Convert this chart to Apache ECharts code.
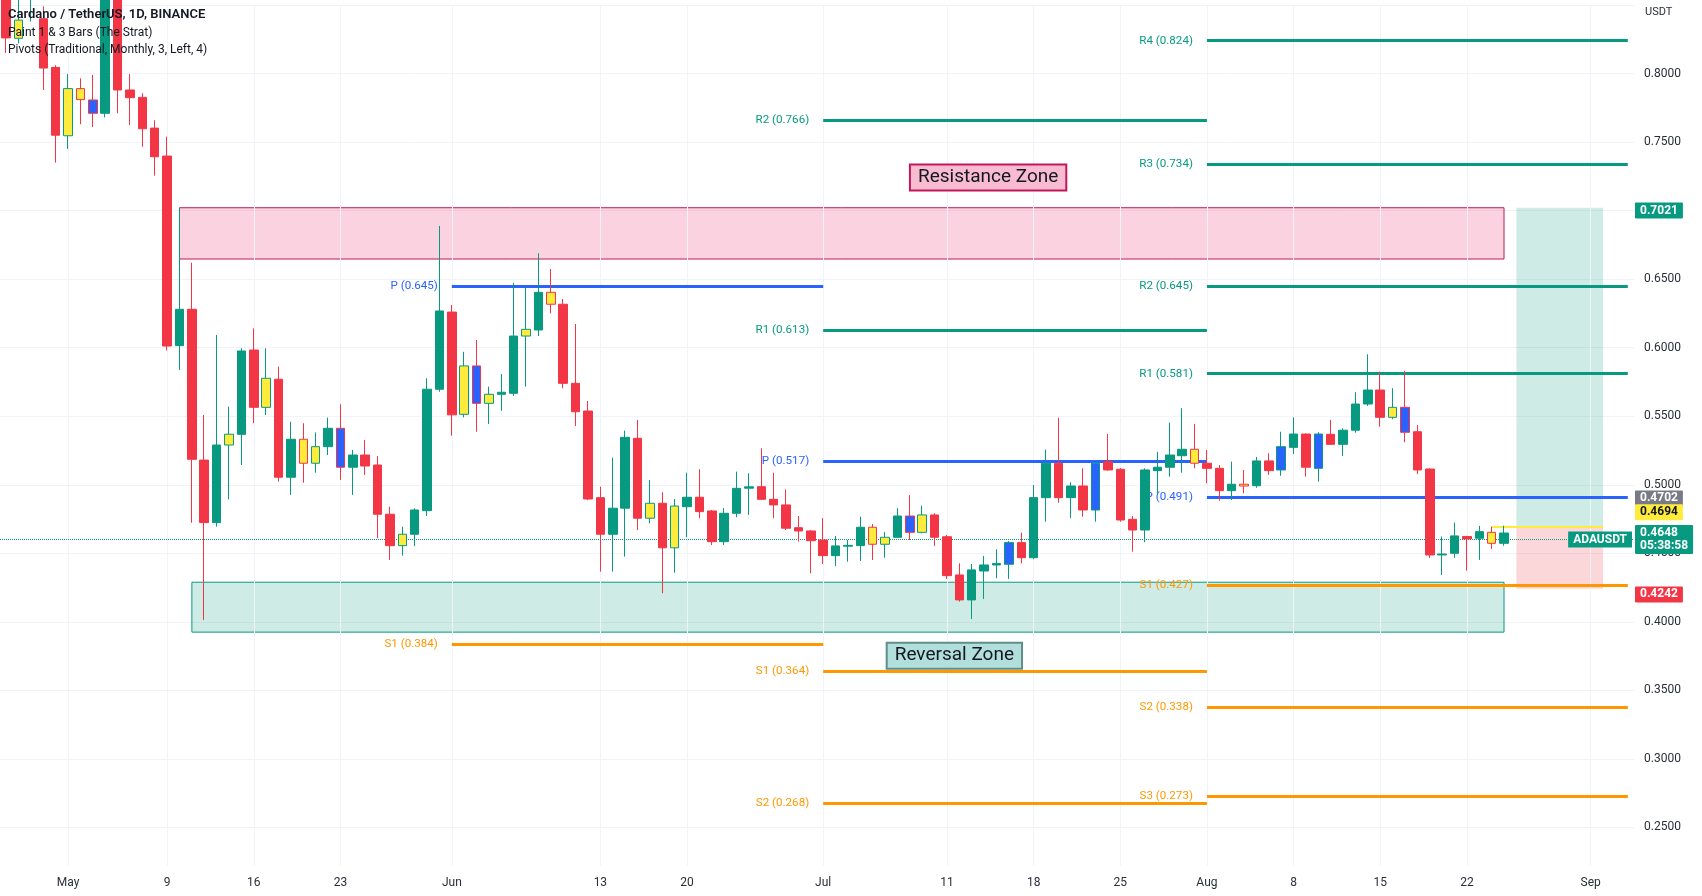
<!DOCTYPE html>
<html>
<head>
<meta charset="utf-8">
<script src="https://cdn.jsdelivr.net/npm/echarts@6/dist/echarts.min.js"></script>
<style>html,body{margin:0;padding:0;background:#fff;}#c{width:1702px;height:896px;}</style>
</head>
<body>
<div id="c"></div>
<script>
// ---------------- DATA ----------------
const startDate = '2022-04-26';
const dayCount = 132; // Apr 26 .. Sep 4 (category slots)

// daily candles, Apr 26 .. Aug 25 2022
const opens = [
0.885,0.8257,0.855,0.840,0.8045,
0.7546,0.789,0.7807,0.771,0.865,0.788,0.7826,0.7602,0.7398,0.6015,
0.628,0.518,0.4724,0.529,0.5368,0.5983,0.5565,0.577,0.5055,0.5332,
0.5157,0.5278,0.5412,0.5128,0.5217,0.5144,0.4785,0.4556,0.4639,0.4811,0.5697,
0.626,0.5514,0.5867,0.5594,0.566,0.5667,0.6085,0.6129,0.6404,0.6317,
0.574,0.5538,0.4906,0.4639,0.4829,0.5339,0.4756,0.4865,0.454,0.484,
0.4909,0.4809,0.4585,0.4792,0.4975,0.4986,0.4894,0.4853,0.4687,0.4663,
0.4597,0.4483,0.4552,0.4556,0.469,0.4566,0.4617,0.4772,0.4653,0.478,
0.4621,0.4342,0.416,0.4371,0.4415,0.442,0.4578,0.4468,0.4906,0.5157,
0.4906,0.4991,0.4816,0.5169,0.5113,0.4748,0.467,0.5103,0.5128,0.5212,0.5259,
0.5157,0.512,0.4957,0.5004,0.4993,0.5174,0.5108,0.5273,0.537,0.512,
0.5368,0.5295,0.5398,0.5589,0.5691,0.5492,0.5565,0.5387,0.5115,0.4488,
0.45,0.4622,0.461,0.4653,0.4573
];
const highs = [
0.895,0.86,0.89,0.849,0.806,
0.7996,0.7965,0.799,0.89,0.875,0.7996,0.7856,0.766,0.754,0.7021,
0.662,0.5509,0.6093,0.557,0.5996,0.6141,0.5996,0.5862,0.546,0.5449,
0.5382,0.549,0.5587,0.5254,0.5327,0.521,0.484,0.4694,0.4828,0.5777,0.6888,
0.6312,0.597,0.6056,0.5716,0.5808,0.6474,0.6445,0.6689,0.6574,0.6355,
0.6173,0.5611,0.4986,0.5198,0.5395,0.5473,0.5035,0.4945,0.4896,0.5088,
0.5113,0.4816,0.483,0.5096,0.5084,0.5266,0.5088,0.4967,0.4772,0.467,
0.4756,0.4627,0.4597,0.4767,0.4714,0.4654,0.4829,0.4925,0.4848,0.4792,
0.4634,0.4427,0.4422,0.4481,0.4529,0.459,0.4651,0.4999,0.5257,0.5489,
0.5018,0.512,0.516,0.537,0.5122,0.4772,0.512,0.5241,0.5453,0.5558,0.5443,
0.5254,0.5144,0.5169,0.5108,0.5203,0.523,0.5387,0.5492,0.5375,0.5383,
0.5473,0.5412,0.5675,0.5952,0.5825,0.5704,0.5832,0.5436,0.512,0.4622,
0.4724,0.4628,0.47,0.4694,0.4702
];
const lows = [
0.815,0.822,0.838,0.788,0.735,
0.745,0.763,0.761,0.768,0.771,0.7624,0.7466,0.7255,0.598,0.5837,
0.4723,0.4014,0.4694,0.4894,0.5144,0.5449,0.5509,0.5023,0.4926,0.5015,
0.5088,0.5217,0.5035,0.4926,0.5072,0.461,0.4452,0.4483,0.4553,0.4772,0.5679,
0.5358,0.5492,0.5387,0.5443,0.554,0.5648,0.5716,0.6085,0.6251,0.5704,
0.5429,0.4889,0.4366,0.4366,0.4476,0.467,0.4719,0.4209,0.4359,0.4617,
0.4756,0.4561,0.4561,0.4763,0.478,0.4889,0.4756,0.467,0.4585,0.4354,
0.4422,0.4408,0.4439,0.4444,0.4451,0.4468,0.4614,0.4597,0.4646,0.4554,
0.4313,0.4147,0.4021,0.4167,0.4318,0.4313,0.4427,0.4457,0.4731,0.4869,
0.4756,0.4767,0.4731,0.5103,0.4731,0.4512,0.4581,0.4926,0.5059,0.5088,0.512,
0.5011,0.4884,0.4889,0.4938,0.4978,0.5072,0.5066,0.5225,0.5059,0.5023,
0.529,0.521,0.538,0.5575,0.5424,0.5478,0.531,0.5079,0.4465,0.4342,
0.4468,0.4374,0.4452,0.4532,0.4555
];
const closes = [
0.826,0.839,0.875,0.804,0.755,
0.789,0.781,0.771,0.865,0.788,0.7824,0.7597,0.7393,0.6012,0.628,
0.5186,0.4724,0.529,0.5369,0.5976,0.5565,0.5777,0.5055,0.5332,0.5157,
0.5278,0.5412,0.5128,0.5217,0.5137,0.4785,0.4556,0.4639,0.4816,0.5697,0.6268,
0.551,0.5867,0.5594,0.566,0.5675,0.6085,0.6134,0.6404,0.6317,0.574,
0.5533,0.4896,0.4639,0.4829,0.5346,0.4756,0.4865,0.454,0.4845,0.4909,
0.4804,0.4585,0.4792,0.4974,0.4985,0.4894,0.4853,0.4683,0.4663,0.4592,
0.4483,0.4554,0.4558,0.469,0.4566,0.4617,0.4772,0.4653,0.478,0.4617,
0.4337,0.416,0.4379,0.4415,0.4425,0.4578,0.4468,0.4906,0.5157,0.4906,
0.4991,0.4816,0.5157,0.5108,0.4743,0.467,0.5108,0.5128,0.5217,0.5259,0.5157,
0.512,0.4957,0.5004,0.4991,0.5174,0.5103,0.5278,0.537,0.5128,0.537,
0.5295,0.5398,0.5589,0.5691,0.5492,0.5565,0.5383,0.5108,0.4488,0.4495,
0.4627,0.4605,0.4658,0.4573,0.4648
];
// Strat bar type: n = normal, i = inside bar (1, yellow), o = outside bar (3, blue)
const barKinds = ('ninnn' + 'iionnnnnnn' + 'nnninninni' + 'inonnnninnn' +
  'nioinninin' + 'nnnnnninin' + 'nnnnnnnnnn' +
  'nnnniinoin' + 'nnnnnonnnn' + 'nnonnnnnnni' +
  'nnninnonno' + 'nnnnnionnn' + 'nnnin').split('');

const tickDates = ['2022-05-01','2022-05-09','2022-05-16','2022-05-23','2022-06-01','2022-06-13','2022-06-20','2022-07-01','2022-07-11','2022-07-18','2022-07-25','2022-08-01','2022-08-08','2022-08-15','2022-08-22','2022-09-01'];
const tickLabels = ['May','9','16','23','Jun','13','20','Jul','11','18','25','Aug','8','15','22','Sep'];

// monthly pivots
const pivotPeriodStart = ['2022-06-01','2022-07-01','2022-08-01'];
const pivotPeriodEnd   = ['2022-07-01','2022-08-01','2022-09-04'];
const pivotNames  = ['P','S1', 'R2','R1','P','S1','S2', 'R4','R3','R2','R1','P','S1','S2','S3'];
const pivotLevels = [0.645,0.384, 0.766,0.613,0.517,0.364,0.268, 0.824,0.734,0.645,0.581,0.491,0.427,0.338,0.273];
const pivotPeriod = [0,0, 1,1,1,1,1, 2,2,2,2,2,2,2,2];

// zones
const zoneNames  = ['Resistance Zone','Reversal Zone'];
const zoneFrom   = ['2022-05-10','2022-05-11'];
const zoneTo     = ['2022-08-25','2022-08-25'];
const zoneTop    = [0.7021, 0.4289];
const zoneBottom = [0.6647, 0.3925];

// long position tool
const posFrom = '2022-08-26', posTo = '2022-09-02';
const posTarget = 0.7021, posEntry = 0.4694, posStop = 0.4242;
const insideHighFrom = '2022-08-24';

const lastPrice = 0.4648, countdown = '05:38:58', dayHigh = 0.4702;

// ---------------- CHART ----------------
const FONT = 'Roboto, "Noto Sans", sans-serif';
const UP = '#089981', DOWN = '#F23645', INSIDE = '#FFEB3B', OUTSIDE = '#2962FF';
const PCOL = {P:'#2962FF', R:'#089981', S:'#FF9800'};

function addDays(s, n) { const d = new Date(s + 'T00:00:00Z'); d.setUTCDate(d.getUTCDate() + n); return d.toISOString().slice(0, 10); }
const dates = Array.from({length: dayCount}, (_, i) => addDays(startDate, i));
const tickMap = new Map(tickDates.map((d, i) => [d, tickLabels[i]]));

const candleData = opens.map((o, i) => {
  const c = closes[i];
  const dir = c >= o ? UP : DOWN;
  const body = barKinds[i] === 'i' ? INSIDE : (barKinds[i] === 'o' ? OUTSIDE : dir);
  return {value: [o, c, lows[i], highs[i]],
    itemStyle: {color: body, color0: body, borderColor: dir, borderColor0: dir, borderColorDoji: dir, borderWidth: 1}};
});

const pivotLineData = pivotLevels.map((v, i) => {
  const col = PCOL[pivotNames[i][0]];
  return [
    {coord: [pivotPeriodStart[pivotPeriod[i]], v], lineStyle: {color: col, width: 3, type: 'solid'},
     label: {show: true, position: 'start', distance: 14, formatter: pivotNames[i] + ' (' + v + ')', color: col, fontSize: 11.6, fontFamily: FONT}},
    {coord: [pivotPeriodEnd[pivotPeriod[i]], v]}
  ];
});

const zoneStyles = [
  {color: 'rgba(233,30,99,0.2)', borderColor: '#C2185B', borderWidth: 1},
  {color: 'rgba(8,153,129,0.2)', borderColor: '#089981', borderWidth: 1}
];
const zoneAreaData = zoneNames.map((n, i) => [
  {coord: [zoneFrom[i], zoneTop[i]], itemStyle: zoneStyles[i]},
  {coord: [zoneTo[i], zoneBottom[i]]}
]);
zoneAreaData.push([{coord: [posFrom, posTarget], itemStyle: {color: 'rgba(8,153,129,0.2)', borderWidth: 0}}, {coord: [posTo, posEntry]}]);
zoneAreaData.push([{coord: [posFrom, posEntry], itemStyle: {color: 'rgba(242,54,69,0.2)', borderWidth: 0}}, {coord: [posTo, posStop]}]);

function priceTag(text, at, bg, fg) {
  return {yAxis: at, lineStyle: {color: 'rgba(0,0,0,0)', width: 1, type: 'solid'},
    label: {show: true, position: 'end', distance: 1, formatter: text, backgroundColor: bg, color: fg, opacity: 1,
      fontSize: 12, fontWeight: 'bold', fontFamily: FONT, padding: [2, 5, 1, 5], lineHeight: 13, borderRadius: 1}};
}

const option = {
  animation: false,
  backgroundColor: '#ffffff',
  title: [
    {text: 'Cardano / TetherUS, 1D, BINANCE', left: 8, top: 8, padding: 0, textStyle: {fontSize: 13, fontWeight: 600, color: '#131722', fontFamily: FONT}},
    {text: 'Paint 1 & 3 Bars (The Strat)', left: 8, top: 27, padding: 0, textStyle: {fontSize: 12, fontWeight: 'normal', color: '#131722', fontFamily: FONT}},
    {text: 'Pivots (Traditional, Monthly, 3, Left, 4)', left: 8, top: 44, padding: 0, textStyle: {fontSize: 12, fontWeight: 'normal', color: '#131722', fontFamily: FONT}},
    {text: 'USDT', left: 1645, top: 7, padding: 0, textStyle: {fontSize: 11, fontWeight: 'normal', color: '#2a2e39', fontFamily: FONT}}
  ],
  grid: {left: -1, top: 5, width: 1635, height: 891, containLabel: false},
  xAxis: {
    type: 'category', data: dates, boundaryGap: true,
    axisLine: {show: false}, axisTick: {show: false}, splitLine: {show: false},
    axisLabel: {inside: true, margin: 7, color: '#2a2e39', fontSize: 12, fontFamily: FONT,
      interval: (i, v) => tickMap.has(v), formatter: v => tickMap.get(v) || ''}
  },
  yAxis: {
    type: 'value', position: 'right', min: 0.2, max: 0.85, interval: 0.05,
    axisLine: {show: false}, axisTick: {show: false},
    splitLine: {lineStyle: {color: '#f0f3fa', width: 1}},
    axisLabel: {margin: 10, color: '#2a2e39', fontSize: 12, fontFamily: FONT,
      formatter: v => (v > 0.84 || v < 0.21) ? '' : v.toFixed(4)}
  },
  series: [
    { // vertical grid lines at time ticks
      name: 'vgrid', type: 'line', data: [], z: 1, silent: true,
      markLine: {silent: true, symbol: ['none', 'none'], label: {show: false},
        lineStyle: {color: '#f0f3fa', width: 1, type: 'solid'},
        data: tickDates.map(d => [{coord: [d, 0.85]}, {coord: [d, 0.222]}])}
    },
    {
      name: 'pivots', type: 'line', data: [], z: 2, silent: true,
      markLine: {silent: true, symbol: ['none', 'none'], data: pivotLineData}
    },
    {
      name: 'zones', type: 'line', data: [], z: 3, silent: true,
      markArea: {silent: true, data: zoneAreaData},
      markLine: {silent: true, symbol: ['none', 'none'], label: {show: false},
        data: [[{coord: [insideHighFrom, posEntry], lineStyle: {color: INSIDE, width: 2, type: 'solid'}}, {coord: [posTo, posEntry]}]]}
    },
    {
      name: 'ADAUSDT', type: 'candlestick', z: 5, barWidth: 9, data: candleData, clip: true
    },
    {
      name: 'overlay', type: 'line', data: [], z: 10, silent: true,
      markLine: {silent: true, symbol: ['none', 'none'], data: [
        {yAxis: lastPrice, lineStyle: {color: UP, width: 1, type: 'dotted'},
         label: {show: true, position: 'insideEnd', distance: [2, 0], formatter: 'ADAUSDT', backgroundColor: UP, color: '#fff',
           fontSize: 12, fontWeight: 'bold', fontFamily: FONT, padding: [2, 5, 1, 5], lineHeight: 13}},
        priceTag(String(posTarget), posTarget, UP, '#fff'),
        priceTag(String(dayHigh), 0.4895, '#787B86', '#fff'),
        priceTag(String(posEntry), 0.4770, INSIDE, '#131722'),
        priceTag(String(lastPrice) + '\n' + countdown, 0.4594, UP, '#fff'),
        priceTag(String(posStop), posStop, DOWN, '#fff')
      ]},
      markPoint: {silent: true, data: [
        {coord: ['2022-07-14', 0.7241], symbol: 'rect', symbolSize: 1, itemStyle: {color: 'rgba(0,0,0,0)'},
         label: {show: true, position: 'inside', offset: [4, 0], formatter: zoneNames[0], backgroundColor: '#F8BBD0',
           borderColor: '#C2185B', borderWidth: 2, padding: [3, 7, 2, 7], color: '#131722', fontSize: 19, fontFamily: FONT}},
        {coord: ['2022-07-12', 0.3753], symbol: 'rect', symbolSize: 1, itemStyle: {color: 'rgba(0,0,0,0)'},
         label: {show: true, position: 'inside', offset: [-5, 0], formatter: zoneNames[1], backgroundColor: '#B2DFDB',
           borderColor: '#5F8F8A', borderWidth: 2, padding: [3, 7, 2, 7], color: '#131722', fontSize: 19, fontFamily: FONT}}
      ]}
    }
  ]
};

const chart = echarts.init(document.getElementById('c'), null, {renderer: 'canvas'});
chart.setOption(option);
</script>
</body>
</html>
